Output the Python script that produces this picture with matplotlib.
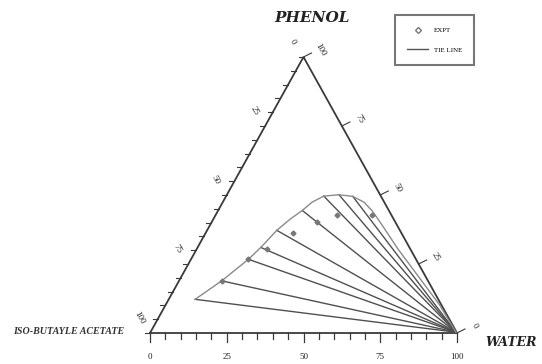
import numpy as np
import matplotlib
matplotlib.use("Agg")
import matplotlib.pyplot as plt
from matplotlib.lines import Line2D

# binodal curve, wt% (water, phenol); acetate = 100 - both
water_curve = [8.6, 13.9, 18.7, 20.6, 22.7, 25.0, 27.4, 29.1, 31.8, 36.5, 41.3, 46.0, 50.3, 54.4, 65.7, 77.4, 89.1, 99.5]
phenol_curve = [12.2, 18.9, 26.7, 31.0, 37.2, 41.2, 44.4, 47.4, 49.6, 50.1, 49.5, 47.4, 44.2, 40.6, 30.3, 20.3, 10.3, 0.3]

# tie lines: organic-rich end -> water-rich end
tie_water_org = [8.6, 13.9, 18.7, 20.6, 22.7, 27.4, 31.8, 36.5, 41.3]
tie_phenol_org = [12.2, 18.9, 26.7, 31.0, 37.2, 44.4, 49.6, 50.1, 49.5]
tie_water_aq = [99.5] * 9
tie_phenol_aq = [0.3] * 9

# experimental points
expt_water = [13.9, 18.7, 22.9, 28.3, 34.4, 39.6, 51.0]
expt_phenol = [18.9, 26.7, 30.4, 36.4, 40.2, 42.8, 42.7]

tick_values = [0, 25, 50, 75, 100]

H = np.sqrt(3) / 2


def tern(w, p):
    w = np.asarray(w, dtype=float)
    p = np.asarray(p, dtype=float)
    return w + p / 2, p * H


# pixel layout: triangle base from x=150 to 457 px, base at y=333 px, apex at y=57 px
sx = 307 / 100
sy = 276 / (100 * H)

fig = plt.figure(figsize=(5.42, 3.64), dpi=100)
ax = fig.add_axes([0, 0, 1, 1])
ax.set_xlim(-150 / sx, (542 - 150) / sx)
ax.set_ylim((333 - 364) / sy, 333 / sy)
ax.axis("off")


def px(dx, dy):
    # pixel offset -> data offset (dy positive = up)
    return dx / sx, dy / sy


edge = "#3a3a3a"
serif = "Liberation Serif"
label_font = "DejaVu Serif"

# triangle frame
ax.plot([0, 100, 50, 0], [0, 0, 100 * H, 0], color=edge, lw=1.3, solid_joinstyle="miter")

# bottom ticks (water)
for v in range(0, 101, 5):
    L = 9 if v % 25 == 0 else 6
    ax.plot([v, v], [0, -L / sy], color=edge, lw=0.9)
for v in tick_values:
    ax.text(v, -24 / sy, str(v), ha="center", va="center", fontsize=6.5,
            family=serif, color="#222222")

# left ticks (acetate, 0 at top -> 100 at bottom-left)
for v in range(0, 101, 5):
    x, y = tern(0, 100 - v)
    ax.plot([x, x - 5 / sx], [y, y], color=edge, lw=0.8)
for v in tick_values:
    x, y = tern(0, 100 - v)
    dx, dy = px(-11, 15)
    ax.text(x + dx, y + dy, str(v), ha="center", va="center", fontsize=6.5,
            family=serif, color="#222222", rotation=-60)

# right ticks (phenol, 100 at top -> 0 at bottom-right)
for v in tick_values:
    x, y = tern(100 - v, v)
    dx, dy = px(8, 4)
    ax.plot([x, x + dx], [y, y + dy], color=edge, lw=0.8)
    dx, dy = px(17, 7)
    ax.text(x + dx, y + dy, str(v), ha="center", va="center", fontsize=6.5,
            family=serif, color="#222222", rotation=-60)

# tie lines
for wo, po, wa, pa in zip(tie_water_org, tie_phenol_org, tie_water_aq, tie_phenol_aq):
    x, y = tern([wo, wa], [po, pa])
    ax.plot(x, y, color="#505050", lw=1.0)

# binodal curve
cx, cy = tern(water_curve, phenol_curve)
ax.plot(cx, cy, color="#8a8a8a", lw=1.0, solid_joinstyle="round")

# experimental points
ex, ey = tern(expt_water, expt_phenol)
ax.plot(ex, ey, linestyle="none", marker="D", markersize=2.5, color="#777777")

# component labels
tx, ty = tern(0, 100)
dx, dy = px(9, 39)
ax.text(tx + dx, ty + dy, "PHENOL", ha="center", va="center", fontsize=11,
        family=label_font, weight="bold", style="italic", color="#222222")
dx, dy = px(54, -9)
ax.text(100 + dx, dy, "WATER", ha="center", va="center", fontsize=9,
        family=label_font, weight="bold", style="italic", color="#222222")
dx, dy = px(-81, 1)
ax.text(dx, dy, "ISO-BUTAYLE ACETATE", ha="center", va="center", fontsize=7.2,
        family=serif, weight="bold", style="italic", color="#333333")

# legend
handles = [
    Line2D([], [], linestyle="none", marker="D", markersize=3, markerfacecolor="white",
           markeredgecolor="#777777"),
    Line2D([], [], color="#555555", lw=1.0),
]
leg = ax.legend(handles, ["EXPT", "TIE LINE"], loc="upper left",
                bbox_to_anchor=(392 / 542, 1 - 12 / 364), fancybox=False,
                prop={"family": serif, "size": 5}, handlelength=3.0,
                borderpad=1.7, labelspacing=2.0, frameon=True)
leg.get_frame().set_edgecolor("#555555")
leg.get_frame().set_linewidth(1.5)

fig.savefig("out.png", dpi=100)
